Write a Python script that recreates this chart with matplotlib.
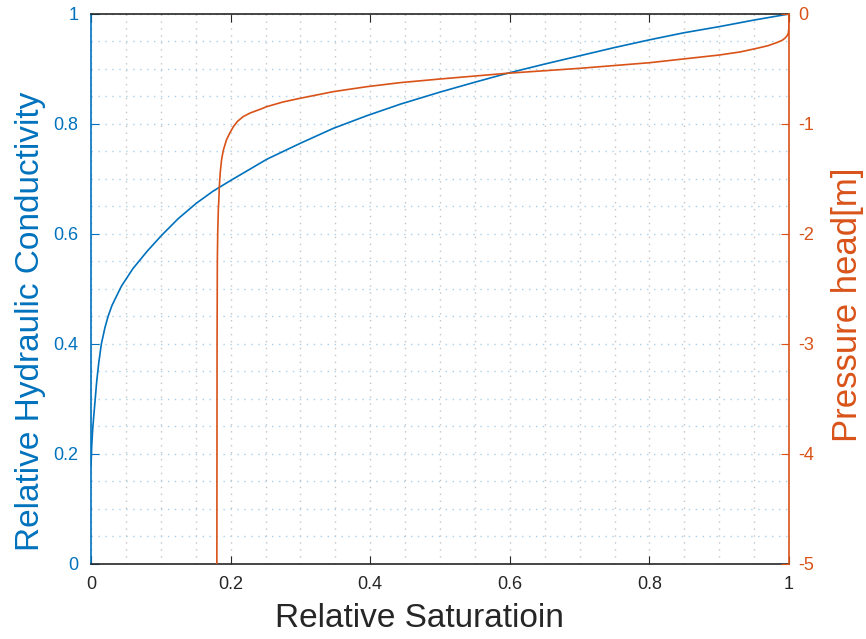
import matplotlib.pyplot as plt
from matplotlib.ticker import MultipleLocator, FuncFormatter

plt.rcParams['font.family'] = ['Liberation Sans', 'DejaVu Sans']
plt.rcParams['axes.unicode_minus'] = False

BLUE = '#0072BD'
ORANGE = '#D95319'
DARK = '#262626'

# relative hydraulic conductivity vs relative saturation
sat_k = [0.0, 0.001, 0.0024, 0.004, 0.0057, 0.008, 0.011, 0.0148, 0.02,
         0.0244, 0.03, 0.0435, 0.06, 0.08, 0.1007, 0.125, 0.151, 0.175,
         0.201, 0.252, 0.30, 0.347, 0.395, 0.443, 0.50, 0.55, 0.596,
         0.65, 0.70, 0.75, 0.80, 0.85, 0.90, 0.95, 1.0]
rel_k = [0.18, 0.215, 0.245, 0.27, 0.295, 0.33, 0.365, 0.40, 0.43,
         0.45, 0.47, 0.505, 0.537, 0.568, 0.597, 0.628, 0.656, 0.678,
         0.698, 0.736, 0.765, 0.792, 0.815, 0.836, 0.858, 0.876, 0.892,
         0.909, 0.924, 0.939, 0.953, 0.966, 0.977, 0.989, 1.0]

# pressure head [m] vs relative saturation
sat_h = [0.1803, 0.1806, 0.181, 0.1815, 0.1824, 0.1832, 0.1838, 0.185,
         0.187, 0.1895, 0.194, 0.199, 0.204, 0.21, 0.218, 0.228, 0.242,
         0.252, 0.275, 0.299, 0.347, 0.395, 0.443, 0.50, 0.596, 0.70,
         0.80, 0.90, 0.93, 0.954, 0.97, 0.982, 0.99, 0.994, 0.997, 0.999,
         1.0, 1.0]
head = [-5.0, -3.0, -2.236, -2.0, -1.78, -1.68, -1.57, -1.45,
        -1.327, -1.24, -1.145, -1.08, -1.024, -0.975, -0.933, -0.9, -0.867,
        -0.842, -0.8, -0.767, -0.706, -0.661, -0.624, -0.591, -0.539, -0.494,
        -0.443, -0.373, -0.345, -0.312, -0.288, -0.261, -0.24, -0.221, -0.2, -0.176,
        -0.12, 0.0]

fig = plt.figure(figsize=(8.66, 6.39), dpi=100)
ax = fig.add_axes([0.1051, 0.1174, 0.806, 0.8607])
ax2 = ax.twinx()

ax.plot(sat_k, rel_k, color=BLUE, lw=1.2)
ax2.plot(sat_h, head, color=ORANGE, lw=1.2)

ax.set_xlim(0, 1)
ax.set_ylim(0, 1)
ax2.set_ylim(-5, 0)

fmt = FuncFormatter(lambda v, p: f'{v + 0:g}')
ax.xaxis.set_major_locator(MultipleLocator(0.2))
ax.xaxis.set_minor_locator(MultipleLocator(0.05))
ax.yaxis.set_major_locator(MultipleLocator(0.2))
ax.yaxis.set_minor_locator(MultipleLocator(0.05))
ax2.yaxis.set_major_locator(MultipleLocator(1))
ax.xaxis.set_major_formatter(fmt)
ax.yaxis.set_major_formatter(fmt)
ax2.yaxis.set_major_formatter(fmt)

# dotted MATLAB-like grid (major + minor)
dots = (0, (1, 4))
ax.grid(True, which='both', axis='x', color='#c4c4c4', linestyle=dots, lw=1)
ax.grid(True, which='both', axis='y', color='#a9d0ea', linestyle=dots, lw=1)
ax.set_axisbelow(True)

ax.tick_params(axis='x', which='major', direction='in', length=6, top=True,
               colors=DARK, labelsize=13, pad=9)
ax.tick_params(axis='y', which='major', direction='in', length=6, right=False,
               colors=BLUE, labelsize=13, pad=9)
ax.tick_params(which='minor', length=0)
ax2.tick_params(axis='y', which='major', direction='in', length=6,
                colors=ORANGE, labelsize=13, pad=7)
ax2.tick_params(which='minor', length=0)

for s in ['top', 'bottom']:
    ax.spines[s].set_color(DARK)
    ax.spines[s].set_linewidth(1.2)
    ax2.spines[s].set_visible(False)
ax.spines['left'].set_color(BLUE)
ax.spines['left'].set_linewidth(1.2)
ax.spines['right'].set_visible(False)
ax2.spines['left'].set_visible(False)
ax2.spines['right'].set_color(ORANGE)
ax2.spines['right'].set_linewidth(1.2)

ax.set_xlabel('Relative Saturatioin', fontsize=24, color=DARK, va='center')
ax.xaxis.set_label_coords(0.47, -0.1)
ax.set_ylabel('Relative Hydraulic Conductivity', fontsize=24, color=BLUE, va='center')
ax.yaxis.set_label_coords(-0.087, 0.441)
ax2.set_ylabel('Pressure head[m]', fontsize=25, color=ORANGE, va='center')
ax2.yaxis.set_label_coords(1.0845, 0.471)

fig.savefig('out.png', dpi=100)
